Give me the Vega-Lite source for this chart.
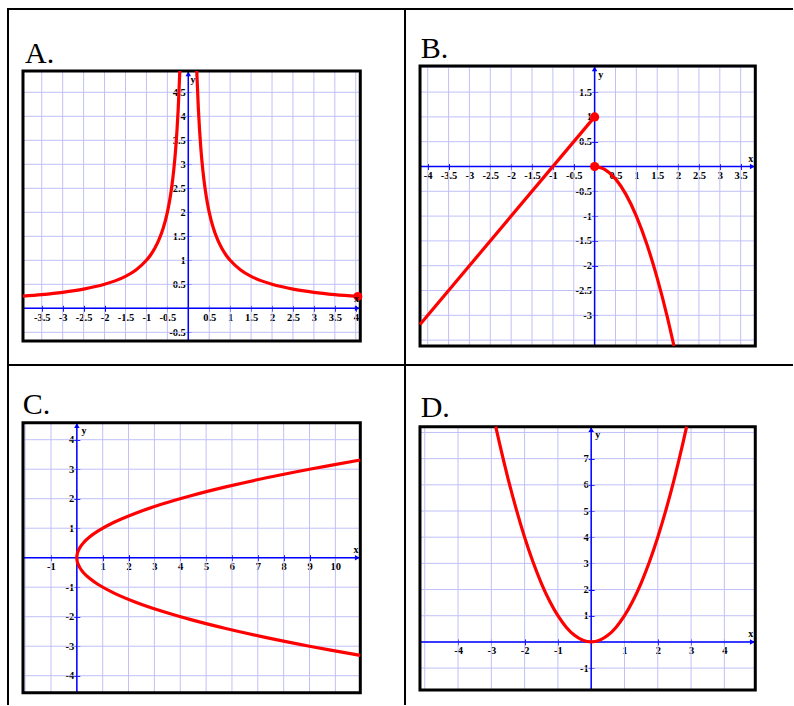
{
"$schema": "https://vega.github.io/schema/vega-lite/v6.json",
"padding": {"left": 7, "top": 8, "right": 0, "bottom": 0},
"background": "white",
"columns": 2,
"spacing": 0,
"bounds": "flush",
"align": "each",
"data": {"values": [{"one": 1}]},
"config": {
  "view": {"stroke": null},
  "axis": {"domain": false, "grid": false, "ticks": true, "tickSize": 6, "tickColor": "#0000ff", "tickWidth": 1, "labelFont": "Liberation Serif", "labelFontWeight": "bold", "labelFontSize": 10.5, "labelColor": "black", "labelOverlap": false, "labelBound": false, "labelFlush": false},
  "axisX": {"labelPadding": 1},
  "axisY": {"labelPadding": 0}
},
"datasets": {
  "Agx": [{"v":-3.5},{"v":-3},{"v":-2.5},{"v":-2},{"v":-1.5},{"v":-1},{"v":-0.5},{"v":0},{"v":0.5},{"v":1},{"v":1.5},{"v":2},{"v":2.5},{"v":3},{"v":3.5},{"v":4}],
  "Agy": [{"v":-0.5},{"v":0},{"v":0.5},{"v":1},{"v":1.5},{"v":2},{"v":2.5},{"v":3},{"v":3.5},{"v":4},{"v":4.5}],
  "Bgx": [{"v":-4},{"v":-3.5},{"v":-3},{"v":-2.5},{"v":-2},{"v":-1.5},{"v":-1},{"v":-0.5},{"v":0},{"v":0.5},{"v":1},{"v":1.5},{"v":2},{"v":2.5},{"v":3},{"v":3.5}],
  "Bgy": [{"v":-3.5},{"v":-3},{"v":-2.5},{"v":-2},{"v":-1.5},{"v":-1},{"v":-0.5},{"v":0},{"v":0.5},{"v":1},{"v":1.5},{"v":2}],
  "Cgx": [{"v":-2},{"v":-1},{"v":0},{"v":1},{"v":2},{"v":3},{"v":4},{"v":5},{"v":6},{"v":7},{"v":8},{"v":9},{"v":10}],
  "Cgy": [{"v":-4},{"v":-3},{"v":-2},{"v":-1},{"v":0},{"v":1},{"v":2},{"v":3},{"v":4}],
  "Dgx": [{"v":-5},{"v":-4},{"v":-3},{"v":-2},{"v":-1},{"v":0},{"v":1},{"v":2},{"v":3},{"v":4}],
  "Dgy": [{"v":-1},{"v":0},{"v":1},{"v":2},{"v":3},{"v":4},{"v":5},{"v":6},{"v":7},{"v":8}],
  "Acurve": [
    {"s":"L","x":-3.948,"y":0.2533},{"s":"L","x":-3.5,"y":0.2857},{"s":"L","x":-3,"y":0.3333},{"s":"L","x":-2.5,"y":0.4},{"s":"L","x":-2,"y":0.5},{"s":"L","x":-1.75,"y":0.5714},{"s":"L","x":-1.5,"y":0.6667},{"s":"L","x":-1.25,"y":0.8},{"s":"L","x":-1,"y":1},{"s":"L","x":-0.9,"y":1.1111},{"s":"L","x":-0.8,"y":1.25},{"s":"L","x":-0.7,"y":1.4286},{"s":"L","x":-0.6,"y":1.6667},{"s":"L","x":-0.5,"y":2},{"s":"L","x":-0.45,"y":2.2222},{"s":"L","x":-0.4,"y":2.5},{"s":"L","x":-0.35,"y":2.8571},{"s":"L","x":-0.3,"y":3.3333},{"s":"L","x":-0.27,"y":3.7037},{"s":"L","x":-0.24,"y":4.1667},{"s":"L","x":-0.2023,"y":4.944},
    {"s":"R","x":0.2023,"y":4.944},{"s":"R","x":0.24,"y":4.1667},{"s":"R","x":0.27,"y":3.7037},{"s":"R","x":0.3,"y":3.3333},{"s":"R","x":0.35,"y":2.8571},{"s":"R","x":0.4,"y":2.5},{"s":"R","x":0.45,"y":2.2222},{"s":"R","x":0.5,"y":2},{"s":"R","x":0.6,"y":1.6667},{"s":"R","x":0.7,"y":1.4286},{"s":"R","x":0.8,"y":1.25},{"s":"R","x":0.9,"y":1.1111},{"s":"R","x":1,"y":1},{"s":"R","x":1.25,"y":0.8},{"s":"R","x":1.5,"y":0.6667},{"s":"R","x":1.75,"y":0.5714},{"s":"R","x":2,"y":0.5},{"s":"R","x":2.5,"y":0.4},{"s":"R","x":3,"y":0.3333},{"s":"R","x":3.5,"y":0.2857},{"s":"R","x":4.05,"y":0.2469}
  ],
  "Bcurve": [
    {"s":"L","x":-4.184,"y":-3.184},{"s":"L","x":0,"y":1},
    {"s":"P","x":0,"y":0},{"s":"P","x":0.25,"y":-0.0625},{"s":"P","x":0.5,"y":-0.25},{"s":"P","x":0.75,"y":-0.5625},{"s":"P","x":1,"y":-1},{"s":"P","x":1.25,"y":-1.5625},{"s":"P","x":1.5,"y":-2.25},{"s":"P","x":1.75,"y":-3.0625},{"s":"P","x":1.902,"y":-3.619}
  ],
  "Ccurve": [
    {"x":10.963,"y":-3.311},{"x":9,"y":-3},{"x":7.29,"y":-2.7},{"x":5.76,"y":-2.4},{"x":4.41,"y":-2.1},{"x":3.24,"y":-1.8},{"x":2.25,"y":-1.5},{"x":1.44,"y":-1.2},{"x":0.81,"y":-0.9},{"x":0.49,"y":-0.7},{"x":0.25,"y":-0.5},{"x":0.1225,"y":-0.35},{"x":0.04,"y":-0.2},{"x":0.01,"y":-0.1},{"x":0,"y":0},{"x":0.01,"y":0.1},{"x":0.04,"y":0.2},{"x":0.1225,"y":0.35},{"x":0.25,"y":0.5},{"x":0.49,"y":0.7},{"x":0.81,"y":0.9},{"x":1.44,"y":1.2},{"x":2.25,"y":1.5},{"x":3.24,"y":1.8},{"x":4.41,"y":2.1},{"x":5.76,"y":2.4},{"x":7.29,"y":2.7},{"x":9,"y":3},{"x":10.963,"y":3.311}
  ],
  "Dcurve": [
    {"x":-2.867,"y":8.22},{"x":-2.75,"y":7.5625},{"x":-2.5,"y":6.25},{"x":-2.25,"y":5.0625},{"x":-2,"y":4},{"x":-1.75,"y":3.0625},{"x":-1.5,"y":2.25},{"x":-1.25,"y":1.5625},{"x":-1,"y":1},{"x":-0.75,"y":0.5625},{"x":-0.5,"y":0.25},{"x":-0.25,"y":0.0625},{"x":0,"y":0},{"x":0.25,"y":0.0625},{"x":0.5,"y":0.25},{"x":0.75,"y":0.5625},{"x":1,"y":1},{"x":1.25,"y":1.5625},{"x":1.5,"y":2.25},{"x":1.75,"y":3.0625},{"x":2,"y":4},{"x":2.25,"y":5.0625},{"x":2.5,"y":6.25},{"x":2.75,"y":7.5625},{"x":2.867,"y":8.22}
  ]
},
"concat": [
  {
   "width": 397, "height": 356,
   "view": {"stroke": "black", "strokeWidth": 2},
   "layer": [
    {"data": {"name": "Agx"}, "mark": {"type": "rule", "color": "#c0c0f8", "strokeWidth": 1},
     "encoding": {"x": {"field": "v", "type": "quantitative", "scale": {"domain": [-4.306, 5.176], "nice": false, "zero": false},
                        "axis": {"orient": "bottom", "title": null, "offset": -59.7, "tickCount": 100, "values": [-3.5,-3,-2.5,-2,-1.5,-1,-0.5,0.5,1,1.5,2,2.5,3,3.5,4], "labelExpr": "toString(datum.value)", "labelOverlap": false, "labelBound": false, "labelFlush": false}},
                  "y": {"datum": -0.681, "type": "quantitative", "scale": {"domain": [-1.181, 6.235], "nice": false, "zero": false}},
                  "y2": {"datum": 4.944}}},
    {"data": {"name": "Agy"}, "mark": {"type": "rule", "color": "#c0c0f8", "strokeWidth": 1},
     "encoding": {"y": {"field": "v", "type": "quantitative", "scale": {"domain": [-1.181, 6.235], "nice": false, "zero": false},
                        "axis": {"orient": "left", "title": null, "offset": -183.3, "tickCount": 100, "values": [-0.5,0.5,1,1.5,2,2.5,3,3.5,4,4.5], "labelExpr": "toString(datum.value)", "labelOverlap": false, "labelBound": false, "labelFlush": false}},
                  "x": {"datum": -3.948, "type": "quantitative", "scale": {"domain": [-4.306, 5.176], "nice": false, "zero": false}},
                  "x2": {"datum": 4.108}}},
    {"mark": {"type": "rule", "color": "#0000ff", "strokeWidth": 1.5},
     "encoding": {"x": {"datum": -3.948, "type": "quantitative", "scale": {"domain": [-4.306, 5.176], "nice": false, "zero": false}},
                  "x2": {"datum": 4.108},
                  "y": {"datum": 0, "type": "quantitative", "scale": {"domain": [-1.181, 6.235], "nice": false, "zero": false}}}},
    {"mark": {"type": "rule", "color": "#0000ff", "strokeWidth": 1.5},
     "encoding": {"y": {"datum": -0.681, "type": "quantitative", "scale": {"domain": [-1.181, 6.235], "nice": false, "zero": false}},
                  "y2": {"datum": 4.944},
                  "x": {"datum": 0, "type": "quantitative", "scale": {"domain": [-4.306, 5.176], "nice": false, "zero": false}}}},
    {"data": {"values": [{"x": 4.036, "y": 0, "sh": "triangle-right"}, {"x": 0, "y": 4.882, "sh": "triangle-up"}]},
     "mark": {"type": "point", "filled": true, "color": "#0000ff", "size": 30, "opacity": 1},
     "encoding": {"x": {"field": "x", "type": "quantitative", "scale": {"domain": [-4.306, 5.176], "nice": false, "zero": false}},
                  "y": {"field": "y", "type": "quantitative", "scale": {"domain": [-1.181, 6.235], "nice": false, "zero": false}},
                  "shape": {"field": "sh", "type": "nominal", "scale": null}}},
    {"mark": {"type": "rect", "filled": false, "stroke": "black", "strokeWidth": 3},
     "encoding": {"x": {"datum": -3.948, "type": "quantitative", "scale": {"domain": [-4.306, 5.176], "nice": false, "zero": false}},
                  "x2": {"datum": 4.108},
                  "y": {"datum": -0.681, "type": "quantitative", "scale": {"domain": [-1.181, 6.235], "nice": false, "zero": false}},
                  "y2": {"datum": 4.944}}},
    {"data": {"name": "Acurve"}, "mark": {"type": "line", "color": "#ff0000", "strokeWidth": 3.2, "interpolate": "monotone"},
     "encoding": {"x": {"field": "x", "type": "quantitative", "scale": {"domain": [-4.306, 5.176], "nice": false, "zero": false}},
                  "y": {"field": "y", "type": "quantitative", "scale": {"domain": [-1.181, 6.235], "nice": false, "zero": false}},
                  "detail": {"field": "s", "type": "nominal"}}},
    {"data": {"values": [{"x": 4.05, "y": 0.247}]}, "mark": {"type": "circle", "color": "#ff0000", "size": 80, "opacity": 1},
     "encoding": {"x": {"field": "x", "type": "quantitative", "scale": {"domain": [-4.306, 5.176], "nice": false, "zero": false}},
                  "y": {"field": "y", "type": "quantitative", "scale": {"domain": [-1.181, 6.235], "nice": false, "zero": false}}}},
    {"data": {"values": [{"t": "x", "x": 4.02, "y": 0.19}, {"t": "y", "x": 0.11, "y": 4.75}]},
     "mark": {"type": "text", "font": "Liberation Serif", "fontWeight": "bold", "fontSize": 10, "color": "black"},
     "encoding": {"x": {"field": "x", "type": "quantitative", "scale": {"domain": [-4.306, 5.176], "nice": false, "zero": false}},
                  "y": {"field": "y", "type": "quantitative", "scale": {"domain": [-1.181, 6.235], "nice": false, "zero": false}},
                  "text": {"field": "t", "type": "nominal"}}},
    {"mark": {"type": "text", "text": "A.", "font": "Liberation Serif", "fontSize": 30, "align": "left", "baseline": "alphabetic", "color": "black"},
     "encoding": {"x": {"datum": -3.9, "type": "quantitative", "scale": {"domain": [-4.306, 5.176], "nice": false, "zero": false}},
                  "y": {"datum": 5.117, "type": "quantitative", "scale": {"domain": [-1.181, 6.235], "nice": false, "zero": false}}}}
   ]
  },
  {
   "width": 388, "height": 356,
   "layer": [
    {"mark": {"type": "rule", "color": "black", "strokeWidth": 2},
     "encoding": {"y": {"datum": 3.175, "type": "quantitative", "scale": {"domain": [-4.002, 3.175], "nice": false, "zero": false}}}},
    {"mark": {"type": "rule", "color": "black", "strokeWidth": 2},
     "encoding": {"y": {"datum": -4.002, "type": "quantitative", "scale": {"domain": [-4.002, 3.175], "nice": false, "zero": false}}}},
    {"data": {"name": "Bgx"}, "mark": {"type": "rule", "color": "#c0c0f8", "strokeWidth": 1},
     "encoding": {"x": {"field": "v", "type": "quantitative", "scale": {"domain": [-4.544, 4.754], "nice": false, "zero": false},
                        "axis": {"orient": "bottom", "title": null, "offset": -201.5, "tickCount": 100, "values": [-4,-3.5,-3,-2.5,-2,-1.5,-1,-0.5,0.5,1,1.5,2,2.5,3,3.5], "labelExpr": "toString(datum.value)", "labelOverlap": false, "labelBound": false, "labelFlush": false}},
                  "y": {"datum": -3.619, "type": "quantitative", "scale": {"domain": [-4.002, 3.175], "nice": false, "zero": false}},
                  "y2": {"datum": 2.026}}},
    {"data": {"name": "Bgy"}, "mark": {"type": "rule", "color": "#c0c0f8", "strokeWidth": 1},
     "encoding": {"y": {"field": "v", "type": "quantitative", "scale": {"domain": [-4.002, 3.175], "nice": false, "zero": false},
                        "axis": {"orient": "left", "title": null, "offset": -192.6, "tickCount": 100, "values": [-3,-2.5,-2,-1.5,-1,-0.5,0.5,1,1.5], "labelExpr": "toString(datum.value)", "labelOverlap": false, "labelBound": false, "labelFlush": false}},
                  "x": {"datum": -4.184, "type": "quantitative", "scale": {"domain": [-4.544, 4.754], "nice": false, "zero": false}},
                  "x2": {"datum": 3.851}}},
    {"mark": {"type": "rule", "color": "#0000ff", "strokeWidth": 1.5},
     "encoding": {"x": {"datum": -4.184, "type": "quantitative", "scale": {"domain": [-4.544, 4.754], "nice": false, "zero": false}},
                  "x2": {"datum": 3.851},
                  "y": {"datum": 0, "type": "quantitative", "scale": {"domain": [-4.002, 3.175], "nice": false, "zero": false}}}},
    {"mark": {"type": "rule", "color": "#0000ff", "strokeWidth": 1.5},
     "encoding": {"y": {"datum": -3.619, "type": "quantitative", "scale": {"domain": [-4.002, 3.175], "nice": false, "zero": false}},
                  "y2": {"datum": 2.026},
                  "x": {"datum": 0, "type": "quantitative", "scale": {"domain": [-4.544, 4.754], "nice": false, "zero": false}}}},
    {"data": {"values": [{"x": 3.779, "y": 0, "sh": "triangle-right"}, {"x": 0, "y": 1.966, "sh": "triangle-up"}]},
     "mark": {"type": "point", "filled": true, "color": "#0000ff", "size": 30, "opacity": 1},
     "encoding": {"x": {"field": "x", "type": "quantitative", "scale": {"domain": [-4.544, 4.754], "nice": false, "zero": false}},
                  "y": {"field": "y", "type": "quantitative", "scale": {"domain": [-4.002, 3.175], "nice": false, "zero": false}},
                  "shape": {"field": "sh", "type": "nominal", "scale": null}}},
    {"mark": {"type": "rect", "filled": false, "stroke": "black", "strokeWidth": 3},
     "encoding": {"x": {"datum": -4.184, "type": "quantitative", "scale": {"domain": [-4.544, 4.754], "nice": false, "zero": false}},
                  "x2": {"datum": 3.851},
                  "y": {"datum": -3.619, "type": "quantitative", "scale": {"domain": [-4.002, 3.175], "nice": false, "zero": false}},
                  "y2": {"datum": 2.026}}},
    {"data": {"name": "Bcurve"}, "mark": {"type": "line", "color": "#ff0000", "strokeWidth": 3.2, "interpolate": "monotone"},
     "encoding": {"x": {"field": "x", "type": "quantitative", "scale": {"domain": [-4.544, 4.754], "nice": false, "zero": false}},
                  "y": {"field": "y", "type": "quantitative", "scale": {"domain": [-4.002, 3.175], "nice": false, "zero": false}},
                  "detail": {"field": "s", "type": "nominal"}}},
    {"data": {"values": [{"x": 0, "y": 1}, {"x": 0, "y": 0}]}, "mark": {"type": "circle", "color": "#ff0000", "size": 85, "opacity": 1},
     "encoding": {"x": {"field": "x", "type": "quantitative", "scale": {"domain": [-4.544, 4.754], "nice": false, "zero": false}},
                  "y": {"field": "y", "type": "quantitative", "scale": {"domain": [-4.002, 3.175], "nice": false, "zero": false}}}},
    {"data": {"values": [{"t": "x", "x": 3.74, "y": 0.15}, {"t": "y", "x": 0.146, "y": 1.845}]},
     "mark": {"type": "text", "font": "Liberation Serif", "fontWeight": "bold", "fontSize": 10, "color": "black"},
     "encoding": {"x": {"field": "x", "type": "quantitative", "scale": {"domain": [-4.544, 4.754], "nice": false, "zero": false}},
                  "y": {"field": "y", "type": "quantitative", "scale": {"domain": [-4.002, 3.175], "nice": false, "zero": false}},
                  "text": {"field": "t", "type": "nominal"}}},
    {"mark": {"type": "text", "text": "B.", "font": "Liberation Serif", "fontSize": 30, "align": "left", "baseline": "alphabetic", "color": "black"},
     "encoding": {"x": {"datum": -4.167, "type": "quantitative", "scale": {"domain": [-4.544, 4.754], "nice": false, "zero": false}},
                  "y": {"datum": 2.194, "type": "quantitative", "scale": {"domain": [-4.002, 3.175], "nice": false, "zero": false}}}}
   ]
  },
  {
   "width": 397, "height": 340,
   "layer": [
    {"mark": {"type": "rule", "color": "black", "strokeWidth": 2},
     "encoding": {"x": {"datum": -2.663, "type": "quantitative", "scale": {"domain": [-2.663, 12.694], "nice": false, "zero": false}}}},
    {"data": {"name": "Cgx"}, "mark": {"type": "rule", "color": "#c0c0f8", "strokeWidth": 1},
     "encoding": {"x": {"field": "v", "type": "quantitative", "scale": {"domain": [-2.663, 12.694], "nice": false, "zero": false},
                        "axis": {"orient": "bottom", "title": null, "offset": -150.3, "tickCount": 100, "values": [-1,1,2,3,4,5,6,7,8,9,10], "labelExpr": "toString(datum.value)", "labelOverlap": false, "labelBound": false, "labelFlush": false}},
                  "y": {"datum": -4.576, "type": "quantitative", "scale": {"domain": [-4.993, 6.532], "nice": false, "zero": false}},
                  "y2": {"datum": 4.576}}},
    {"data": {"name": "Cgy"}, "mark": {"type": "rule", "color": "#c0c0f8", "strokeWidth": 1},
     "encoding": {"y": {"field": "v", "type": "quantitative", "scale": {"domain": [-4.993, 6.532], "nice": false, "zero": false},
                        "axis": {"orient": "left", "title": null, "offset": -71.84, "tickCount": 100, "values": [-4,-3,-2,-1,1,2,3,4], "labelExpr": "toString(datum.value)", "labelOverlap": false, "labelBound": false, "labelFlush": false}},
                  "x": {"datum": -2.083, "type": "quantitative", "scale": {"domain": [-2.663, 12.694], "nice": false, "zero": false}},
                  "x2": {"datum": 10.965}}},
    {"mark": {"type": "rule", "color": "#0000ff", "strokeWidth": 1.5},
     "encoding": {"x": {"datum": -2.083, "type": "quantitative", "scale": {"domain": [-2.663, 12.694], "nice": false, "zero": false}},
                  "x2": {"datum": 10.965},
                  "y": {"datum": 0, "type": "quantitative", "scale": {"domain": [-4.993, 6.532], "nice": false, "zero": false}}}},
    {"mark": {"type": "rule", "color": "#0000ff", "strokeWidth": 1.5},
     "encoding": {"y": {"datum": -4.576, "type": "quantitative", "scale": {"domain": [-4.993, 6.532], "nice": false, "zero": false}},
                  "y2": {"datum": 4.576},
                  "x": {"datum": 0, "type": "quantitative", "scale": {"domain": [-2.663, 12.694], "nice": false, "zero": false}}}},
    {"data": {"values": [{"x": 10.849, "y": 0, "sh": "triangle-right"}, {"x": 0, "y": 4.474, "sh": "triangle-up"}]},
     "mark": {"type": "point", "filled": true, "color": "#0000ff", "size": 30, "opacity": 1},
     "encoding": {"x": {"field": "x", "type": "quantitative", "scale": {"domain": [-2.663, 12.694], "nice": false, "zero": false}},
                  "y": {"field": "y", "type": "quantitative", "scale": {"domain": [-4.993, 6.532], "nice": false, "zero": false}},
                  "shape": {"field": "sh", "type": "nominal", "scale": null}}},
    {"mark": {"type": "rect", "filled": false, "stroke": "black", "strokeWidth": 3},
     "encoding": {"x": {"datum": -2.083, "type": "quantitative", "scale": {"domain": [-2.663, 12.694], "nice": false, "zero": false}},
                  "x2": {"datum": 10.965},
                  "y": {"datum": -4.576, "type": "quantitative", "scale": {"domain": [-4.993, 6.532], "nice": false, "zero": false}},
                  "y2": {"datum": 4.576}}},
    {"data": {"name": "Ccurve"}, "mark": {"type": "line", "color": "#ff0000", "strokeWidth": 3.2, "interpolate": "catmull-rom"},
     "encoding": {"x": {"field": "x", "type": "quantitative", "scale": {"domain": [-2.663, 12.694], "nice": false, "zero": false}},
                  "y": {"field": "y", "type": "quantitative", "scale": {"domain": [-4.993, 6.532], "nice": false, "zero": false}},
                  "order": {"field": "y", "type": "quantitative"}}},
    {"data": {"values": [{"t": "x", "x": 10.8, "y": 0.26}, {"t": "y", "x": 0.28, "y": 4.3}]},
     "mark": {"type": "text", "font": "Liberation Serif", "fontWeight": "bold", "fontSize": 10, "color": "black"},
     "encoding": {"x": {"field": "x", "type": "quantitative", "scale": {"domain": [-2.663, 12.694], "nice": false, "zero": false}},
                  "y": {"field": "y", "type": "quantitative", "scale": {"domain": [-4.993, 6.532], "nice": false, "zero": false}},
                  "text": {"field": "t", "type": "nominal"}}},
    {"mark": {"type": "text", "text": "C.", "font": "Liberation Serif", "fontSize": 30, "align": "left", "baseline": "alphabetic", "color": "black"},
     "encoding": {"x": {"datum": -2.095, "type": "quantitative", "scale": {"domain": [-2.663, 12.694], "nice": false, "zero": false}},
                  "y": {"datum": 4.861, "type": "quantitative", "scale": {"domain": [-4.993, 6.532], "nice": false, "zero": false}}}}
   ]
  },
  {
   "width": 388, "height": 340,
   "layer": [
    {"mark": {"type": "rule", "color": "black", "strokeWidth": 2},
     "encoding": {"x": {"datum": -5.593, "type": "quantitative", "scale": {"domain": [-5.593, 6.062], "nice": false, "zero": false}}}},
    {"data": {"name": "Dgx"}, "mark": {"type": "rule", "color": "#c0c0f8", "strokeWidth": 1},
     "encoding": {"x": {"field": "v", "type": "quantitative", "scale": {"domain": [-5.593, 6.062], "nice": false, "zero": false},
                        "axis": {"orient": "bottom", "title": null, "offset": -66.1, "tickCount": 100, "values": [-4,-3,-2,-1,1,2,3,4], "labelExpr": "toString(datum.value)", "labelOverlap": false, "labelBound": false, "labelFlush": false}},
                  "y": {"datum": -1.837, "type": "quantitative", "scale": {"domain": [-2.41, 10.577], "nice": false, "zero": false}},
                  "y2": {"datum": 8.22}}},
    {"data": {"name": "Dgy"}, "mark": {"type": "rule", "color": "#c0c0f8", "strokeWidth": 1},
     "encoding": {"y": {"field": "v", "type": "quantitative", "scale": {"domain": [-2.41, 10.577], "nice": false, "zero": false},
                        "axis": {"orient": "left", "title": null, "offset": -189.2, "tickCount": 100, "values": [-1,1,2,3,4,5,6,7], "labelExpr": "toString(datum.value)", "labelOverlap": false, "labelBound": false, "labelFlush": false}},
                  "x": {"datum": -5.143, "type": "quantitative", "scale": {"domain": [-5.593, 6.062], "nice": false, "zero": false}},
                  "x2": {"datum": 4.929}}},
    {"mark": {"type": "rule", "color": "#0000ff", "strokeWidth": 1.5},
     "encoding": {"x": {"datum": -5.143, "type": "quantitative", "scale": {"domain": [-5.593, 6.062], "nice": false, "zero": false}},
                  "x2": {"datum": 4.929},
                  "y": {"datum": 0, "type": "quantitative", "scale": {"domain": [-2.41, 10.577], "nice": false, "zero": false}}}},
    {"mark": {"type": "rule", "color": "#0000ff", "strokeWidth": 1.5},
     "encoding": {"y": {"datum": -1.837, "type": "quantitative", "scale": {"domain": [-2.41, 10.577], "nice": false, "zero": false}},
                  "y2": {"datum": 8.22},
                  "x": {"datum": 0, "type": "quantitative", "scale": {"domain": [-5.593, 6.062], "nice": false, "zero": false}}}},
    {"data": {"values": [{"x": 4.839, "y": 0, "sh": "triangle-right"}, {"x": 0, "y": 8.105, "sh": "triangle-up"}]},
     "mark": {"type": "point", "filled": true, "color": "#0000ff", "size": 30, "opacity": 1},
     "encoding": {"x": {"field": "x", "type": "quantitative", "scale": {"domain": [-5.593, 6.062], "nice": false, "zero": false}},
                  "y": {"field": "y", "type": "quantitative", "scale": {"domain": [-2.41, 10.577], "nice": false, "zero": false}},
                  "shape": {"field": "sh", "type": "nominal", "scale": null}}},
    {"mark": {"type": "rect", "filled": false, "stroke": "black", "strokeWidth": 3},
     "encoding": {"x": {"datum": -5.143, "type": "quantitative", "scale": {"domain": [-5.593, 6.062], "nice": false, "zero": false}},
                  "x2": {"datum": 4.929},
                  "y": {"datum": -1.837, "type": "quantitative", "scale": {"domain": [-2.41, 10.577], "nice": false, "zero": false}},
                  "y2": {"datum": 8.22}}},
    {"data": {"name": "Dcurve"}, "mark": {"type": "line", "color": "#ff0000", "strokeWidth": 3.2, "interpolate": "monotone"},
     "encoding": {"x": {"field": "x", "type": "quantitative", "scale": {"domain": [-5.593, 6.062], "nice": false, "zero": false}},
                  "y": {"field": "y", "type": "quantitative", "scale": {"domain": [-2.41, 10.577], "nice": false, "zero": false}}}},
    {"data": {"values": [{"t": "x", "x": 4.79, "y": 0.3}, {"t": "y", "x": 0.2, "y": 7.9}]},
     "mark": {"type": "text", "font": "Liberation Serif", "fontWeight": "bold", "fontSize": 10, "color": "black"},
     "encoding": {"x": {"field": "x", "type": "quantitative", "scale": {"domain": [-5.593, 6.062], "nice": false, "zero": false}},
                  "y": {"field": "y", "type": "quantitative", "scale": {"domain": [-2.41, 10.577], "nice": false, "zero": false}},
                  "text": {"field": "t", "type": "nominal"}}},
    {"mark": {"type": "text", "text": "D.", "font": "Liberation Serif", "fontSize": 30, "align": "left", "baseline": "alphabetic", "color": "black"},
     "encoding": {"x": {"datum": -5.122, "type": "quantitative", "scale": {"domain": [-5.593, 6.062], "nice": false, "zero": false}},
                  "y": {"datum": 8.579, "type": "quantitative", "scale": {"domain": [-2.41, 10.577], "nice": false, "zero": false}}}}
   ]
  }
]
}
